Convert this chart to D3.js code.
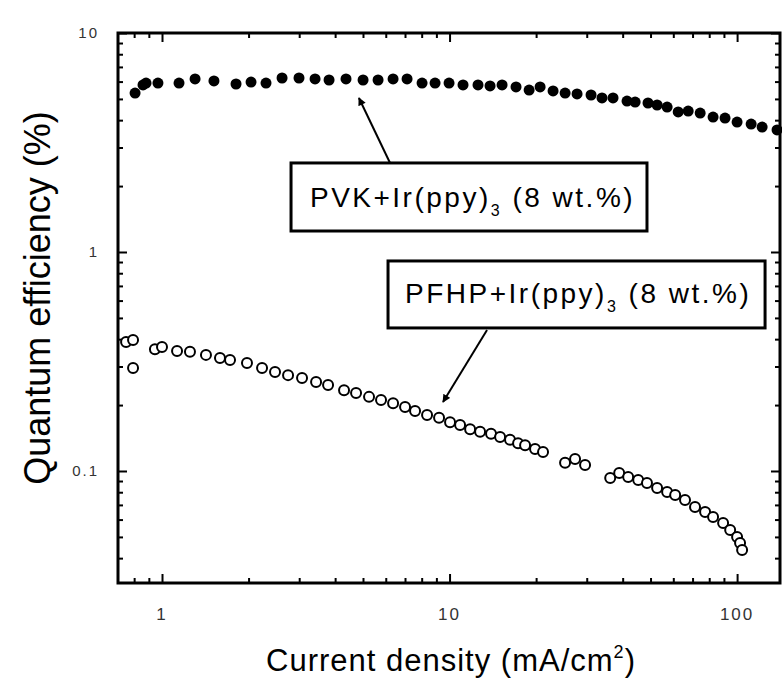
<!DOCTYPE html>
<html>
<head>
<meta charset="utf-8">
<script src="https://cdn.jsdelivr.net/npm/d3@7"></script>
<style>
  body { margin: 0; background: #fff; }
  text { font-family: "Liberation Sans", Arial, sans-serif; }
</style>
</head>
<body>
<div id="chart"></div>
<script>
// PVK+Ir(ppy)3 (filled symbols): current density (mA/cm2) and quantum efficiency (%)
const pvkCurrent = [0.806, 0.859, 0.880, 0.968, 1.146, 1.303, 1.516, 1.809, 2.040, 2.300,
    2.615, 2.995, 3.406, 3.810, 4.365, 5.003, 5.641, 6.362, 7.116, 8.024,
    8.905, 9.96, 11.14, 12.56, 13.83, 15.23, 17.03, 18.91, 20.65, 22.91,
    25.23, 27.76, 31.05, 33.9, 37.03, 41.42, 44.2, 49.0, 52.7, 57.1,
    62.4, 67.6, 74.4, 82.5, 90.8, 100, 111.9, 122.2, 137.7];
const pvkQE = [5.32, 5.79, 5.91, 5.91, 5.91, 6.17, 6.04, 5.85, 5.97, 5.91,
    6.23, 6.23, 6.17, 6.10, 6.17, 6.10, 6.10, 6.17, 6.17, 5.91,
    5.91, 5.91, 5.79, 5.79, 5.73, 5.79, 5.67, 5.49, 5.67, 5.44,
    5.32, 5.27, 5.21, 5.05, 5.05, 4.89, 4.84, 4.79, 4.69, 4.59,
    4.36, 4.40, 4.31, 4.13, 4.09, 3.92, 3.84, 3.72, 3.61];

// PFHP+Ir(ppy)3 (open symbols)
const pfhpCurrent = [0.750, 0.793, 0.793, 0.945, 1.0, 1.128, 1.251, 1.422, 1.591, 1.724,
    1.975, 2.228, 2.472, 2.744, 3.069, 3.434, 3.780, 4.296, 4.730, 5.248,
    5.777, 6.362, 7.003, 7.586, 8.352, 9.194, 10.04, 10.88, 11.79, 12.77,
    13.94, 14.99, 16.23, 17.31, 18.31, 19.83, 21.14, 25.22, 27.32, 29.6,
    36.2, 38.9, 41.8, 45.3, 48.6, 52.7, 57.1, 60.9, 65.9, 71.4,
    77.4, 82.5, 89.4, 94.6, 100, 102.4, 104.1];
const pfhpQE = [0.388, 0.396, 0.295, 0.360, 0.368, 0.353, 0.350, 0.339, 0.328, 0.321,
    0.311, 0.295, 0.283, 0.274, 0.266, 0.255, 0.247, 0.234, 0.227, 0.218,
    0.211, 0.204, 0.196, 0.188, 0.180, 0.175, 0.167, 0.162, 0.155, 0.151,
    0.148, 0.143, 0.139, 0.134, 0.131, 0.126, 0.122, 0.109, 0.1134, 0.1065,
    0.0929, 0.098, 0.0939, 0.0909, 0.0882, 0.0836, 0.0802, 0.0777, 0.0737, 0.0685,
    0.065, 0.0617, 0.0579, 0.0538, 0.05, 0.0469, 0.0436];

// tick values and labels
const xTicks = [1, 10, 100];
const xTickLabels = ["1", "10", "100"];
const yTicks = [0.1, 1, 10];
const yTickLabels = ["0.1", "1", "10"];

// Define the dimensions and margins for the SVG
const margin = { top: 33, right: 2, bottom: 95, left: 118 };
const width = 782 - margin.left - margin.right;
const height = 678 - margin.top - margin.bottom;

const svg = d3.select("#chart")
    .append("svg")
    .attr("width", 782)
    .attr("height", 678)
    .append("g")
    .attr("transform", `translate(${margin.left}, ${margin.top})`);

// log scales
const x = d3.scaleLog().domain([0.703, 141]).range([0, width]);
const y = d3.scaleLog().domain([0.0308, 10]).range([height, 0]);

// minor ticks for each decade
const minorX = [];
[0.1, 1, 10, 100].forEach(dec => {
    for (let k = 2; k <= 9; k++) {
        const v = dec * k;
        if (v > x.domain()[0] && v < x.domain()[1]) minorX.push(v);
    }
});
const minorY = [];
[0.01, 0.1, 1].forEach(dec => {
    for (let k = 2; k <= 9; k++) {
        const v = dec * k;
        if (v > y.domain()[0] && v < y.domain()[1]) minorY.push(v);
    }
});

// ticks pointing inward on all four sides
function tickAxis(axisFn, scale, values, size) {
    return axisFn(scale).tickValues(values).tickSize(-size).tickFormat("");
}
const axisDefs = [
    { fn: d3.axisBottom, s: x, t: `translate(0,${height})` },
    { fn: d3.axisTop, s: x, t: "translate(0,0)" },
    { fn: d3.axisLeft, s: y, t: "translate(0,0)" },
    { fn: d3.axisRight, s: y, t: `translate(${width},0)` }
];
axisDefs.forEach(a => {
    const isX = a.s === x;
    [[isX ? minorX : minorY, 5], [isX ? xTicks : yTicks, 9]].forEach(([vals, size]) => {
        const g = svg.append("g")
            .attr("transform", a.t)
            .call(tickAxis(a.fn, a.s, vals, size));
        g.select(".domain").remove();
        g.selectAll("line").attr("stroke", "#000").attr("stroke-width", 2);
    });
});

// frame
svg.append("rect")
    .attr("x", 0)
    .attr("y", 0)
    .attr("width", width)
    .attr("height", height)
    .attr("fill", "none")
    .attr("stroke", "#000")
    .attr("stroke-width", 3);

// tick labels
svg.selectAll(".xlab")
    .data(xTicks)
    .enter()
    .append("text")
    .attr("x", d => x(d))
    .attr("y", height + 37)
    .attr("text-anchor", "middle")
    .attr("font-size", 17)
    .attr("letter-spacing", 2)
    .attr("fill", "#333")
    .text((d, i) => xTickLabels[i]);

svg.selectAll(".ylab")
    .data(yTicks)
    .enter()
    .append("text")
    .attr("x", -19)
    .attr("y", d => y(d))
    .attr("dy", "0.35em")
    .attr("text-anchor", "end")
    .attr("font-size", 15)
    .attr("letter-spacing", 2)
    .attr("fill", "#333")
    .text((d, i) => yTickLabels[i]);

// axis titles
const xTitle = svg.append("text")
    .attr("x", width / 2 + 2)
    .attr("y", height + 88)
    .attr("text-anchor", "middle")
    .attr("font-size", 31)
    .attr("letter-spacing", 1)
    .text("Current density (mA/cm");
xTitle.append("tspan").attr("font-size", 18).attr("dy", -13).text("2");
xTitle.append("tspan").attr("dy", 13).text(")");

svg.append("text")
    .attr("transform", "rotate(-90)")
    .attr("x", -(height / 2) + 10)
    .attr("y", -68)
    .attr("text-anchor", "middle")
    .attr("font-size", 36)
    .text("Quantum efficiency (%)");

// PFHP open symbols
svg.selectAll(".pfhp")
    .data(pfhpCurrent)
    .enter()
    .append("circle")
    .attr("cx", d => x(d))
    .attr("cy", (d, i) => y(pfhpQE[i]))
    .attr("r", 5)
    .attr("fill", "#fff")
    .attr("stroke", "#000")
    .attr("stroke-width", 2);

// PVK filled symbols
svg.selectAll(".pvk")
    .data(pvkCurrent)
    .enter()
    .append("circle")
    .attr("cx", d => x(d))
    .attr("cy", (d, i) => y(pvkQE[i]))
    .attr("r", 5.5)
    .attr("fill", "#000");

// arrowhead
svg.append("defs").append("marker")
    .attr("id", "head")
    .attr("viewBox", "0 0 10 10")
    .attr("refX", 9)
    .attr("refY", 5)
    .attr("markerWidth", 9)
    .attr("markerHeight", 8)
    .attr("markerUnits", "userSpaceOnUse")
    .attr("orient", "auto")
    .append("path")
    .attr("d", "M0,0 L10,5 L0,10 Z")
    .attr("fill", "#000");

// annotations: boxes, labels and arrows placed in data coordinates
const labels = [
    { name: "PVK", box: [2.81, 48.6, 2.55, 1.247], text: [3.27, 1.605], arrow: [6.21, 2.55, 4.84, 5.05] },
    { name: "PFHP", box: [6.11, 125.1, 0.910, 0.450], text: [7.0, 0.585], arrow: [13.5, 0.4406, 9.49, 0.2065] }
];

labels.forEach(l => {
    svg.append("rect")
        .attr("x", x(l.box[0]))
        .attr("y", y(l.box[2]))
        .attr("width", x(l.box[1]) - x(l.box[0]))
        .attr("height", y(l.box[3]) - y(l.box[2]))
        .attr("fill", "#fff")
        .attr("stroke", "#000")
        .attr("stroke-width", 3);

    const t = svg.append("text")
        .attr("x", x(l.text[0]))
        .attr("y", y(l.text[1]))
        .attr("font-size", 28)
        .attr("letter-spacing", 2.5)
        .text(l.name + "+Ir(ppy)");
    t.append("tspan").attr("font-size", 16).attr("dy", 9).text("3");
    t.append("tspan").attr("dy", -9).text(" (8 wt.%)");

    svg.append("line")
        .attr("x1", x(l.arrow[0]))
        .attr("y1", y(l.arrow[1]))
        .attr("x2", x(l.arrow[2]))
        .attr("y2", y(l.arrow[3]))
        .attr("stroke", "#000")
        .attr("stroke-width", 2)
        .attr("marker-end", "url(#head)");
});
</script>
</body>
</html>
